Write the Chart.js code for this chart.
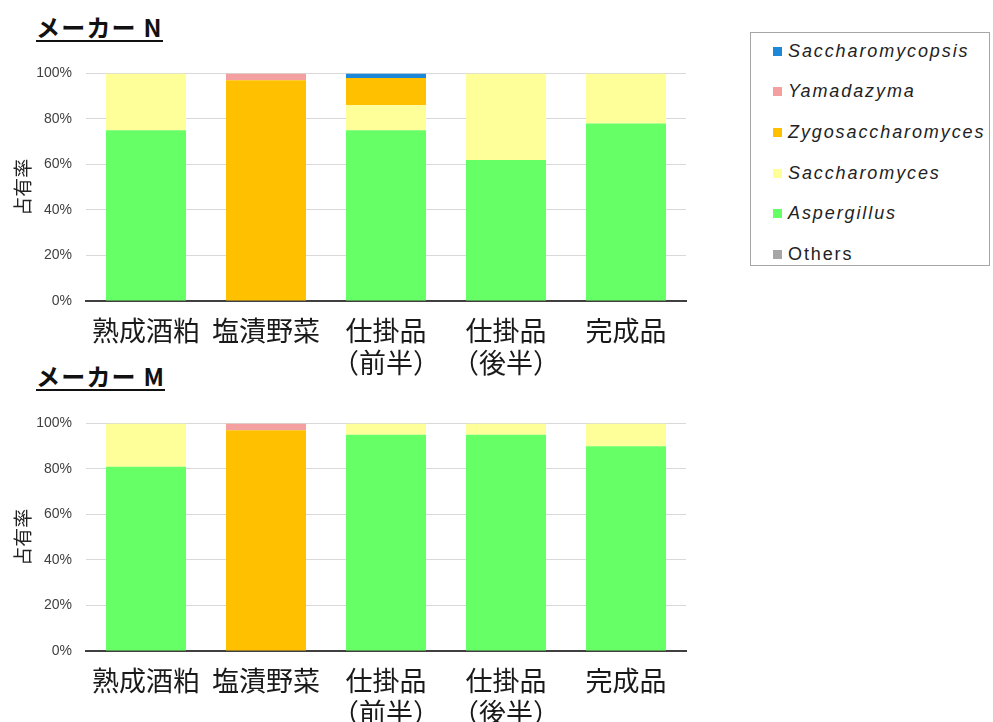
<!DOCTYPE html>
<html>
<head>
<meta charset="utf-8">
<script src="https://cdn.jsdelivr.net/npm/chart.js@4/dist/chart.umd.min.js"></script>
<style>
  html, body { margin: 0; padding: 0; background: #fff; overflow: hidden; width: 993px; height: 722px; }
  .wrap { position: absolute; left: 0; width: 740px; height: 335px; }
  .maker { position: absolute; left: 36px; font-family: "Noto Sans CJK JP", sans-serif; font-weight: 700;
           font-size: 24px; line-height: 1; color: #111; border-bottom: 2px solid #111; padding-bottom: 1px; letter-spacing: 1.2px; }
  #legend { position: absolute; left: 750px; top: 32px; width: 240px; height: 234px; border: 1px solid #A6A6A6; box-sizing: border-box; }
  .item { position: absolute; left: 22px; height: 20px; display: flex; align-items: center; white-space: nowrap;
          font-family: "Liberation Sans", Arial, sans-serif; font-size: 18px; color: #222; letter-spacing: 1.9px; }
  .sw { width: 9px; height: 9px; margin-right: 6px; }
</style>
</head>
<body>
<div class="maker" style="top:15px">メーカー N</div>
<div class="maker" style="top:364px">メーカー M</div>
<div class="wrap" style="top:51px"><canvas id="chartN"></canvas></div>
<div class="wrap" style="top:401px"><canvas id="chartM"></canvas></div>
<div id="legend"></div>
<script>
// Sample categories (multi-line labels)
const categories = [['熟成酒粕'], ['塩漬野菜'], ['仕掛品', '（前半）'], ['仕掛品', '（後半）'], ['完成品']];
const yTicks = [0, 20, 40, 60, 80, 100];

// Genus names, from bottom of the stack to the top
const genera = ['Others', 'Aspergillus', 'Saccharomyces', 'Zygosaccharomyces', 'Yamadazyma', 'Saccharomycopsis'];
const genusColors = ['#A6A6A6', '#66FF66', '#FFFF99', '#FFC000', '#F4A0A0', '#1E88D8'];

// メーカー N (%)
const nOthers            = [0, 0, 0, 0, 0];
const nAspergillus       = [75, 0, 75, 62, 78];
const nSaccharomyces     = [25, 0, 11, 38, 22];
const nZygosaccharomyces = [0, 97, 12, 0, 0];
const nYamadazyma        = [0, 3, 0, 0, 0];
const nSaccharomycopsis  = [0, 0, 2, 0, 0];

// メーカー M (%)
const mOthers            = [0, 0, 0, 0, 0];
const mAspergillus       = [81, 0, 95, 95, 90];
const mSaccharomyces     = [19, 0, 5, 5, 10];
const mZygosaccharomyces = [0, 97, 0, 0, 0];
const mYamadazyma        = [0, 3, 0, 0, 0];
const mSaccharomycopsis  = [0, 0, 0, 0, 0];

const seriesN = [nOthers, nAspergillus, nSaccharomyces, nZygosaccharomyces, nYamadazyma, nSaccharomycopsis];
const seriesM = [mOthers, mAspergillus, mSaccharomyces, mZygosaccharomyces, mYamadazyma, mSaccharomycopsis];

function makeChart(id, series) {
  return new Chart(document.getElementById(id), {
    type: 'bar',
    data: {
      labels: categories,
      datasets: genera.map((g, i) => ({
        label: g,
        data: series[i],
        backgroundColor: genusColors[i],
        borderWidth: 0,
        categoryPercentage: 1,
        barPercentage: 0.667
      }))
    },
    options: {
      responsive: false,
      animation: false,
      devicePixelRatio: 1,
      layout: { padding: { top: 15, right: 54, left: 0, bottom: 0 } },
      plugins: { legend: { display: false }, tooltip: { enabled: false } },
      scales: {
        x: {
          stacked: true,
          grid: { display: false },
          border: { display: true, color: '#404040', width: 2 },
          ticks: {
            padding: 6,
            color: '#1a1a1a',
            maxRotation: 0,
            autoSkip: false,
            font: { family: '"Noto Sans CJK JP", sans-serif', size: 27, lineHeight: 1.17 }
          },
          afterFit(scale) { scale.height = 85; }
        },
        y: {
          stacked: true,
          min: 0,
          max: 100,
          afterBuildTicks(scale) { scale.ticks = yTicks.map(v => ({ value: v })); },
          grid: { color: '#D9D9D9', lineWidth: 1, drawTicks: false },
          border: { display: false },
          ticks: {
            padding: 14,
            color: '#404040',
            font: { family: '"Liberation Sans", Arial, sans-serif', size: 14 },
            callback: v => v + '%'
          },
          title: {
            display: true,
            text: '占有率',
            color: '#222',
            padding: { top: 11, bottom: 0 },
            font: { family: '"Noto Sans CJK JP", sans-serif', size: 19, lineHeight: 1.2 }
          },
          afterFit(scale) { scale.width = 86; }
        }
      }
    }
  });
}

function sizeCanvas(id) {
  const c = document.getElementById(id);
  c.width = 740; c.height = 335;
  c.style.width = '740px'; c.style.height = '335px';
}
sizeCanvas('chartN');
sizeCanvas('chartM');
makeChart('chartN', seriesN);
makeChart('chartM', seriesM);

// Shared legend, listed from the top of the stack down
const legend = document.getElementById('legend');
const legendRows = genera.map((g, i) => ({ name: g, color: genusColors[i] })).reverse();
legendRows.forEach((row, k) => {
  const el = document.createElement('div');
  el.className = 'item';
  el.style.top = (8 + k * 40.7) + 'px';
  const sw = document.createElement('span');
  sw.className = 'sw';
  sw.style.background = row.color;
  const tx = document.createElement('span');
  tx.textContent = row.name;
  if (row.name !== 'Others') tx.style.fontStyle = 'italic';
  el.appendChild(sw);
  el.appendChild(tx);
  legend.appendChild(el);
});
</script>
</body>
</html>
